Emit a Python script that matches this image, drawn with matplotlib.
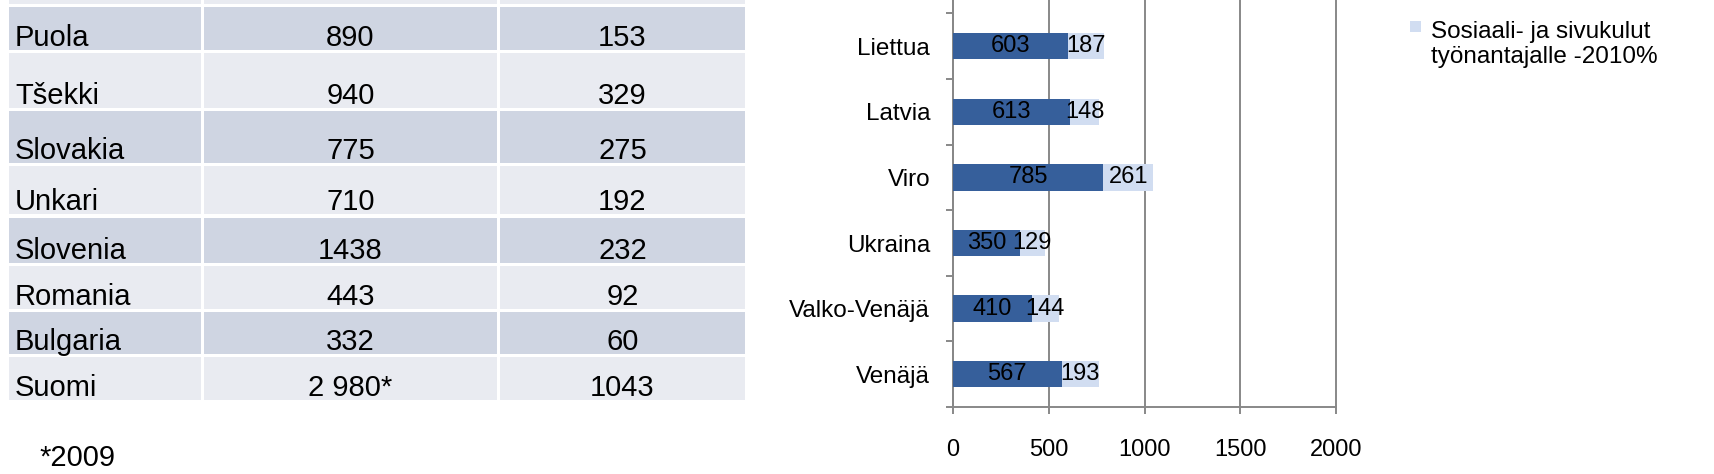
"""Palkkakustannukset: taulukko (EU-maat) + pinottu palkkikaavio (itänaapurit)."""

from __future__ import annotations

import matplotlib

matplotlib.use("Agg")
import matplotlib.pyplot as plt  # noqa: E402
from matplotlib.patches import Rectangle  # noqa: E402

# --- taulukon data ---
table_countries = ["Puola", "Tšekki", "Slovakia", "Unkari", "Slovenia", "Romania", "Bulgaria", "Suomi"]
table_wage = ["890", "940", "775", "710", "1438", "443", "332", "2 980*"]
table_social = ["153", "329", "275", "192", "232", "92", "60", "1043"]
footnote = "*2009"

# --- kaavion data (alhaalta ylös) ---
chart_countries = ["Venäjä", "Valko-Venäjä", "Ukraina", "Viro", "Latvia", "Liettua"]
wage = [567, 410, 350, 785, 613, 603]
social = [193, 144, 129, 261, 148, 187]
x_ticks = [0, 500, 1000, 1500, 2000]
legend_label = "Sosiaali- ja sivukulut\ntyönantajalle -2010%"

DARK = "#365F9B"
LIGHT = "#D1DDF1"
ROW_DARK = "#CFD5E2"
ROW_LIGHT = "#E9EBF1"
GRID = "#888888"

W, H = 1714, 474


def _apply_style() -> None:
    plt.rcParams.update(
        {
            "font.family": ["Liberation Sans", "DejaVu Sans"],
            "figure.facecolor": "white",
            "axes.facecolor": "white",
        }
    )


def draw_table(fig) -> None:
    # pikselikoordinaatit koko kuvan päälle
    tax = fig.add_axes([0, 0, 1, 1])
    tax.set_xlim(0, W)
    tax.set_ylim(H, 0)
    tax.axis("off")

    cols = [(9, 201), (204, 497), (500, 745)]
    # rivien ylä-/alareunat; ensimmäinen on leikkautunut otsikkorivi
    rows = [(-10, 4), (7, 50), (53, 108), (111, 163), (166, 214), (218, 263),
            (266, 309), (312, 354), (357, 400)]
    for i, (top, bot) in enumerate(rows):
        color = ROW_LIGHT if i % 2 == 0 else ROW_DARK
        for x0, x1 in cols:
            tax.add_patch(Rectangle((x0, top), x1 - x0, bot - top,
                                    facecolor=color, edgecolor="none"))

    for i, (name, a, b) in enumerate(zip(table_countries, table_wage, table_social)):
        _, bot = rows[i + 1]
        yb = bot - 4
        tax.text(15, yb, name, fontsize=21, va="baseline", ha="left")
        tax.text((cols[1][0] + cols[1][1]) / 2, yb, a, fontsize=21, va="baseline", ha="center")
        tax.text((cols[2][0] + cols[2][1]) / 2, yb, b, fontsize=21, va="baseline", ha="center")

    tax.text(39, 466, footnote, fontsize=21, va="baseline", ha="left")


def draw_chart(fig) -> None:
    left, right, bottom = 953 / W, 1336 / W, 1 - 407 / H
    ax = fig.add_axes([left, bottom, right - left, 1 - bottom])
    band = 65.6
    y = list(range(len(chart_countries)))
    ax.barh(y, wage, height=0.4, color=DARK, zorder=3)
    ax.barh(y, social, left=wage, height=0.4, color=LIGHT, zorder=3)

    for yi, a, b in zip(y, wage, social):
        ax.text(a / 2, yi, str(a), fontsize=17, ha="center", va="center", zorder=4)
        ax.text(a + b / 2, yi, str(b), fontsize=17, ha="center", va="center", zorder=4)

    ax.set_xlim(0, 2000)
    ax.set_ylim(-0.5, -0.5 + 407 / band)
    ax.set_xticks(x_ticks, [str(t) for t in x_ticks])
    ax.set_yticks(y, chart_countries)
    ax.set_yticks([i - 0.5 for i in range(len(chart_countries) + 1)], minor=True)

    ax.tick_params(axis="y", which="major", length=0, pad=16.5, labelsize=17.5)
    ax.tick_params(axis="y", which="minor", length=5, width=1.4, color=GRID, direction="out")
    ax.tick_params(axis="x", length=5, width=1.4, color=GRID, direction="out",
                   pad=18, labelsize=17)

    for side in ("top", "right"):
        ax.spines[side].set_visible(False)
    for side in ("left", "bottom"):
        ax.spines[side].set_color(GRID)
        ax.spines[side].set_linewidth(1.4)

    ax.grid(axis="x", color=GRID, linewidth=1.4, zorder=0)
    ax.grid(axis="y", visible=False)
    ax.set_axisbelow(True)
    for line in ax.get_xgridlines():
        line.set_clip_on(False)

    # selite (vain vaalea sarja näkyy rajatussa kuvassa)
    fig.patches.append(Rectangle((1410 / W, 1 - 32 / H), 11 / W, 11 / H,
                                 transform=fig.transFigure, facecolor=LIGHT,
                                 edgecolor="none"))
    # monirivisen tekstin baseline = viimeisen rivin baseline
    fig.text(1431 / W, 1 - 63 / H, legend_label, fontsize=17.5, ha="left",
             va="baseline", linespacing=1.15)


def main() -> None:
    _apply_style()
    fig = plt.figure(figsize=(W / 100, H / 100), dpi=100)
    draw_table(fig)
    draw_chart(fig)
    fig.savefig("out.png", dpi=100)
    plt.close(fig)


if __name__ == "__main__":
    main()
